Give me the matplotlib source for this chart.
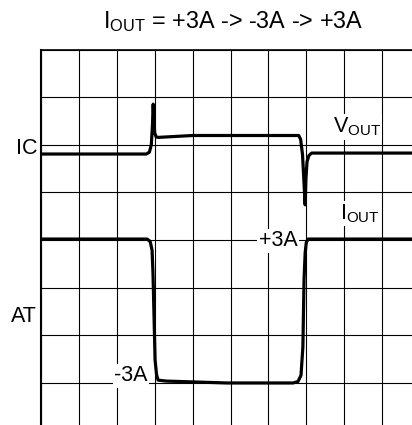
import matplotlib
matplotlib.use("Agg")
import matplotlib.pyplot as plt

plt.rcParams['font.family'] = ['Liberation Sans', 'DejaVu Sans']
plt.rcParams['mathtext.default'] = 'regular'

# scope traces, in grid divisions (x: 0..10, y: 0..8 from bottom)
vout_x = [0, 2.78, 2.86, 2.91, 2.94, 2.96, 2.98, 3.00, 3.04, 3.09, 4.0,
          6.80, 6.85, 6.90, 6.94, 6.97, 6.99, 7.02, 7.07, 7.14, 10]
vout_y = [5.81, 5.81, 5.85, 6.00, 6.40, 6.86, 6.50, 6.25, 6.17, 6.16, 6.20,
          6.20, 6.12, 5.80, 5.20, 4.74, 5.30, 5.65, 5.78, 5.83, 5.83]

iout_x = [0, 2.80, 2.88, 2.93, 2.955, 3.01, 3.05, 3.09, 3.3, 4.9,
          6.65, 6.78, 6.86, 6.91, 6.94, 6.97, 7.00, 7.05, 10]
iout_y = [4.02, 4.02, 3.97, 3.79, 3.30, 1.47, 1.16, 1.05, 1.03, 0.99,
          0.99, 1.02, 1.15, 1.75, 3.16, 3.73, 3.95, 4.02, 4.02]

title = r'$I_{OUT}$ = +3A -> -3A -> +3A'
side_labels = ['IC', 'AT']
side_y = [5.93, 2.40]

fig = plt.figure(figsize=(4.12, 4.25), dpi=100)
ax = fig.add_axes([41 / 412, -5 / 425, 379 / 412, 380 / 425])
ax.set_xlim(0, 10)
ax.set_ylim(0, 8)
ax.set_xticks(range(11))
ax.set_yticks(range(9))
ax.tick_params(length=0, labelleft=False, labelbottom=False)
ax.grid(True, color='black', linewidth=0.8)
for side in ['right', 'bottom']:
    ax.spines[side].set_visible(False)
ax.spines['left'].set_linewidth(1.5)
ax.spines['top'].set_linewidth(1.2)

ax.plot(vout_x, vout_y, color='black', linewidth=2.3, solid_joinstyle='round', zorder=3)
ax.plot(iout_x, iout_y, color='black', linewidth=2.3, solid_joinstyle='round', zorder=3)

fs = 15.5
box = dict(facecolor='white', edgecolor='none', pad=1)
ax.text(8.34, 6.38, r'$V_{OUT}$', fontsize=fs, ha='center', va='center', bbox=box, zorder=4)
ax.text(8.42, 4.55, r'$I_{OUT}$', fontsize=fs, ha='center', va='center', bbox=box, zorder=4)
ax.text(6.25, 3.98, '+3A', fontsize=fs, ha='center', va='center', bbox=box, zorder=4)
ax.text(2.37, 1.14, '-3A', fontsize=fs, ha='center', va='center', bbox=box, zorder=4)

for lab, yy in zip(side_labels, side_y):
    ax.text(-0.1, yy, lab, fontsize=fs, ha='right', va='center', clip_on=False)

fig.text(233 / 412, 1 - 22 / 425, title, fontsize=16.8, ha='center', va='center')

fig.savefig('out.png', dpi=100)
